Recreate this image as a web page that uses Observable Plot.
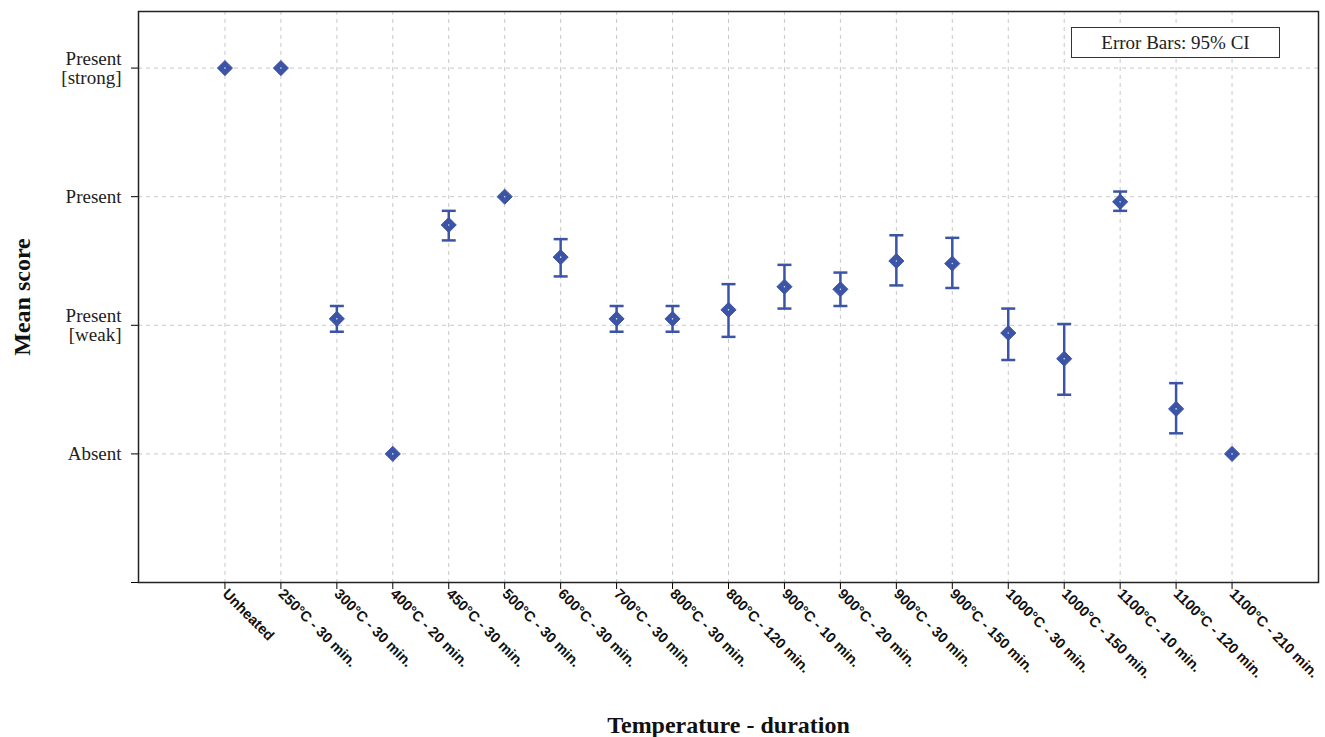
<!DOCTYPE html>
<html>
<head>
<meta charset="utf-8">
<script src="https://cdn.jsdelivr.net/npm/d3@7"></script>
<script src="https://cdn.jsdelivr.net/npm/@observablehq/plot@0.6"></script>
<style>
  body { margin: 0; background: #fff; }
  #wrap { position: relative; width: 1325px; height: 737px; }
  #legend {
    position: absolute; left: 1071px; top: 27px; width: 207px; height: 29px;
    border: 1px solid #333; background: #fff;
    font-family: "Liberation Serif", serif; font-size: 19px; color: #222;
    display: flex; align-items: center; justify-content: center;
  }
</style>
</head>
<body>
<div id="wrap"><div id="legend">Error Bars: 95% CI</div></div>
<script>
const categories = ["Unheated", "250°C - 30 min.", "300°C - 30 min.", "400°C - 20 min.", "450°C - 30 min.", "500°C - 30 min.", "600°C - 30 min.", "700°C - 30 min.", "800°C - 30 min.", "800°C - 120 min.", "900°C - 10 min.", "900°C - 20 min.", "900°C - 30 min.", "900°C - 150 min.", "1000°C - 30 min.", "1000°C - 150 min.", "1100°C - 10 min.", "1100°C - 120 min.", "1100°C - 210 min."];
const means = [4.0, 4.0, 2.05, 1.0, 2.78, 3.0, 2.53, 2.05, 2.05, 2.12, 2.30, 2.28, 2.50, 2.48, 1.94, 1.74, 2.96, 1.35, 1.0];
const lows  = [null, null, 1.95, null, 2.66, null, 2.38, 1.95, 1.95, 1.91, 2.13, 2.15, 2.31, 2.29, 1.73, 1.46, 2.89, 1.16, null];
const highs = [null, null, 2.15, null, 2.89, null, 2.67, 2.15, 2.15, 2.32, 2.47, 2.41, 2.70, 2.68, 2.13, 2.01, 3.04, 1.55, null];
const yTickValues = [0, 1, 2, 3, 4];
const yTickLabels = ["", "Absent", "Present\n[weak]", "Present", "Present\n[strong]"];

const data = categories.map((c, i) => ({cat: c, mean: means[i], lo: lows[i], hi: highs[i]}));
const bars = data.filter(d => d.lo != null);
const color = "#3b54a5";
const cap = { draw(ctx) { ctx.moveTo(-7, 0); ctx.lineTo(7, 0); } };

const chart = Plot.plot({
  width: 1325, height: 737,
  marginLeft: 138, marginRight: 7, marginTop: 11, marginBottom: 155,
  style: {background: "#fff"},
  x: {type: "point", domain: categories, padding: 1.545, round: false, label: null},
  y: {domain: [0, 4.44], label: null},
  marks: [
    Plot.gridX(categories, {stroke: "#c8c8c8", strokeOpacity: 1, strokeDasharray: "4,4"}),
    Plot.gridY([1, 2, 3, 4], {stroke: "#c8c8c8", strokeOpacity: 1, strokeDasharray: "4,4"}),
    Plot.axisY({ticks: yTickValues, tickFormat: v => yTickLabels[v], tickSize: 7, tickPadding: 10,
      fontFamily: "Liberation Serif", fontSize: 19, lineHeight: 1.0, fill: "#222", label: null}),
    Plot.axisX({tickRotate: 45, tickSize: 7, tickPadding: 2, fontFamily: "Liberation Sans",
      fontWeight: "bold", fontSize: 14.5, fill: "#111", label: null}),
    Plot.frame({stroke: "#222", strokeWidth: 1.5}),
    Plot.ruleX(bars, {x: "cat", y1: "lo", y2: "hi", stroke: color, strokeWidth: 2.5}),
    Plot.dot(bars, {x: "cat", y: "lo", symbol: cap, stroke: color, strokeWidth: 2.5}),
    Plot.dot(bars, {x: "cat", y: "hi", symbol: cap, stroke: color, strokeWidth: 2.5}),
    Plot.dot(data, {x: "cat", y: "mean", symbol: "diamond2", r: 6.8, fill: color, stroke: color, strokeWidth: 1}),
    Plot.dot(data, {x: "cat", y: "mean", r: 0.8, fill: "#fff", fillOpacity: 0.8, stroke: "none"}),
    Plot.text(["Temperature - duration"], {frameAnchor: "bottom", dy: 143, lineAnchor: "middle",
      fontFamily: "Liberation Serif", fontWeight: "bold", fontSize: 24, fill: "#111"}),
    Plot.text(["Mean score"], {frameAnchor: "left", dx: -116, rotate: -90, textAnchor: "middle", lineAnchor: "middle",
      fontFamily: "Liberation Serif", fontWeight: "bold", fontSize: 24, fill: "#111"})
  ]
});
document.getElementById("wrap").prepend(chart);
</script>
</body>
</html>
